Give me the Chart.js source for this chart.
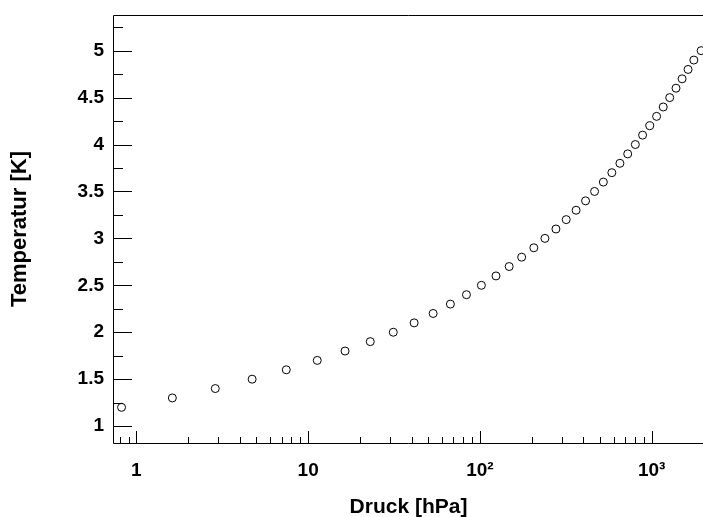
<!DOCTYPE html>
<html lang="de">
<head>
    <meta charset="UTF-8">
    <title>Temperatur vs. Druck</title>
    <script src="https://cdn.jsdelivr.net/npm/chart.js"></script>
    <style>
        html, body {
            margin: 0;
            overflow: hidden;
            background: #fff;
        }
        #vpChart {
            display: block;
        }
    </style>
</head>
<body>

<canvas id="vpChart" width="703" height="517"></canvas>

<script>
    // Messwerte: Temperatur [K] und Druck [hPa]
    const temperature = [1.2, 1.3, 1.4, 1.5, 1.6, 1.7, 1.8, 1.9, 2.0, 2.1, 2.2, 2.3, 2.4, 2.5, 2.6, 2.7, 2.8, 2.9, 3.0,
        3.1, 3.2, 3.3, 3.4, 3.5, 3.6, 3.7, 3.8, 3.9, 4.0, 4.1, 4.2, 4.3, 4.4, 4.5, 4.6, 4.7, 4.8, 4.9, 5.0];
    const pressure = [0.82, 1.62, 2.88, 4.72, 7.46, 11.3, 16.4, 23.0, 31.3, 41.4, 53.4, 67.3, 83.5, 102, 124, 148, 175, 206, 239,
        277, 318, 363, 412, 465, 523, 586, 653, 725, 803, 885, 974, 1068, 1167, 1273, 1385, 1503, 1628, 1759, 1940];

    // Achsen (rechter Rahmen liegt ausserhalb des Bildes)
    const xRange = [0.741, 1989];
    const yRange = [0.82, 5.38];
    const xLabels = {1: '1', 10: '10', 100: '10²', 1000: '10³'};
    const yLabelValues = [1, 1.5, 2, 2.5, 3, 3.5, 4, 4.5, 5];

    const xTickValues = [];
    [0.1, 1, 10, 100, 1000].forEach(d => {
        for (let k = 1; k <= 9; k++) {
            const v = Math.round(k * d * 10) / 10;
            if (v >= xRange[0] && v <= xRange[1]) xTickValues.push(v);
        }
    });
    const yTickValues = [];
    for (let v = 1; v <= yRange[1]; v += 0.25) yTickValues.push(v);

    const points = temperature.map((t, i) => ({x: pressure[i], y: t}));

    // keine automatischen Randabstaende fuer Tick-Labels
    function noPadding(scale) {
        scale.paddingTop = 0;
        scale.paddingBottom = 0;
        scale.paddingLeft = 0;
        scale.paddingRight = 0;
    }

    // ROOT-artige Ticks innerhalb des Rahmens
    const frameTicks = {
        id: 'frameTicks',
        afterDraw(chart) {
            const {ctx, chartArea: a, scales: {x, y}} = chart;
            ctx.save();
            ctx.strokeStyle = '#000';
            ctx.lineWidth = 1;
            ctx.beginPath();
            ctx.moveTo(a.left - 0.5, a.top + 0.5);
            ctx.lineTo(a.right, a.top + 0.5);
            ctx.moveTo(a.left - 0.5, a.top + 0.5);
            ctx.lineTo(a.left - 0.5, a.bottom + 0.5);
            ctx.lineTo(a.right, a.bottom + 0.5);
            x.ticks.forEach(t => {
                const px = Math.round(x.getPixelForValue(t.value)) + 0.5;
                const len = xLabels[t.value] ? 12 : 6;
                ctx.moveTo(px, a.bottom);
                ctx.lineTo(px, a.bottom - len);
            });
            y.ticks.forEach(t => {
                const py = Math.round(y.getPixelForValue(t.value)) + 0.5;
                const len = yLabelValues.includes(t.value) ? 18 : 9;
                ctx.moveTo(a.left, py);
                ctx.lineTo(a.left + len, py);
            });
            ctx.stroke();
            ctx.restore();
        }
    };

    const ctx = document.getElementById('vpChart').getContext('2d');
    const vpChart = new Chart(ctx, {
        type: 'scatter',
        data: {
            datasets: [{
                data: points,
                pointStyle: 'circle',
                pointRadius: 4,
                pointHoverRadius: 4,
                borderWidth: 1,
                borderColor: '#000',
                backgroundColor: 'rgba(0,0,0,0)',
                showLine: false
            }]
        },
        options: {
            responsive: false,
            devicePixelRatio: 1,
            animation: false,
            layout: {
                autoPadding: false,
                padding: {top: 15, right: 0, left: 0, bottom: 0}
            },
            plugins: {
                legend: {display: false},
                tooltip: {enabled: false}
            },
            scales: {
                x: {
                    type: 'logarithmic',
                    bounds: 'data',
                    min: xRange[0],
                    max: xRange[1],
                    grid: {display: false, drawTicks: false},
                    border: {display: false},
                    afterBuildTicks: scale => {
                        scale.ticks = xTickValues.map(v => ({value: v}));
                    },
                    afterFit: scale => {
                        scale.height = 74;
                        noPadding(scale);
                    },
                    ticks: {
                        autoSkip: false,
                        maxRotation: 0,
                        padding: 16,
                        color: '#000',
                        font: {family: 'Liberation Sans', size: 19, weight: 'bold'},
                        callback: v => xLabels[v] || ''
                    },
                    title: {
                        display: true,
                        text: 'Druck [hPa]',
                        color: '#000',
                        font: {family: 'Liberation Sans', size: 21, weight: 'bold', lineHeight: 1},
                        padding: {top: 0, bottom: -1}
                    }
                },
                y: {
                    bounds: 'data',
                    min: yRange[0],
                    max: yRange[1],
                    grid: {display: false, drawTicks: false},
                    border: {display: false},
                    afterBuildTicks: scale => {
                        scale.ticks = yTickValues.map(v => ({value: v}));
                    },
                    afterFit: scale => {
                        scale.width = 114;
                        noPadding(scale);
                    },
                    ticks: {
                        autoSkip: false,
                        padding: 10,
                        color: '#000',
                        font: {family: 'Liberation Sans', size: 19, weight: 'bold'},
                        callback: v => yLabelValues.includes(v) ? String(v) : ''
                    },
                    title: {
                        display: true,
                        text: 'Temperatur [K]',
                        color: '#000',
                        font: {family: 'Liberation Sans', size: 22, weight: 'bold', lineHeight: 1},
                        padding: {top: 9, bottom: 0}
                    }
                }
            }
        },
        plugins: [frameTicks]
    });
</script>

</body>
</html>
